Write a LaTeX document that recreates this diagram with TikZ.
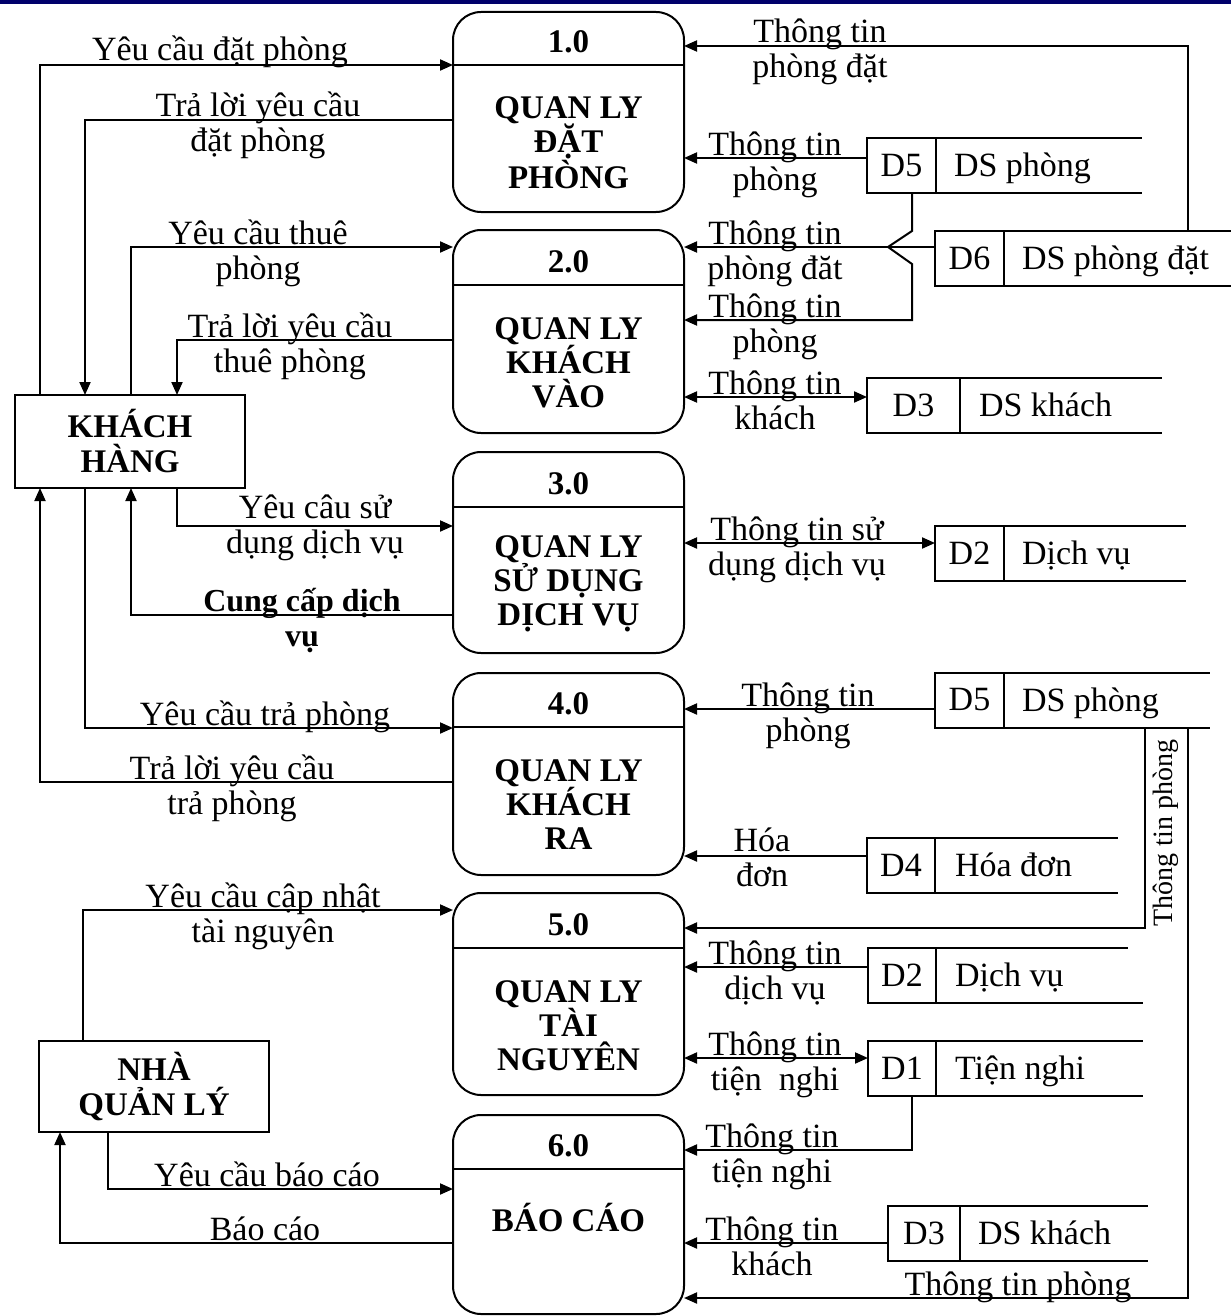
\documentclass[tikz,border=0pt]{standalone}
\usepackage{fontspec}
\setmainfont{Liberation Serif}
\usetikzlibrary{arrows.meta}
\begin{document}
\begin{tikzpicture}[x=1pt,y=-1pt,
  every node/.style={font=\fontsize{34}{35}\selectfont, inner sep=0pt, outer sep=0pt},
  ln/.style={line width=2pt},
  tip/.tip={Triangle[length=13pt,width=11pt]},
  flow/.style={ln, -tip},
  dflow/.style={ln, tip-tip},
  proc/.style={draw, ln, rounded corners=28pt, minimum width=231pt},
  ent/.style={draw, ln, minimum width=230pt, font=\bfseries\fontsize{33}{35}\selectfont, align=center},
  dsid/.style={draw, ln, minimum height=55pt},
  dsname/.style={anchor=base west},
  lbl/.style={align=center, anchor=base},
  blbl/.style={align=center, anchor=base, font=\bfseries\fontsize{32}{35}\selectfont},
  ttl/.style={font=\bfseries\fontsize{33}{34}\selectfont, align=center},
]
\useasboundingbox (0,0) rectangle (1231,1316);
\fill[white] (0,0) rectangle (1231,1316);
\fill[black!30!blue!60!black] (0,0) rectangle (1231,4);

% ---------- processes ----------
\node[proc, minimum height=200pt] (p1) at (568.5,112) {};
\draw[ln] (p1.west |- 0,65) -- (p1.east |- 0,65);
\node[ttl] (p1n) at (568.5,42) {1.0};
\node[ttl] (p1t) at (568.5,143) {QUAN LY\\ĐẶT\\PHÒNG};

\node[proc, minimum height=203pt] (p2) at (568.5,331.5) {};
\draw[ln] (p2.west |- 0,285) -- (p2.east |- 0,285);
\node[ttl] (p2n) at (568.5,262) {2.0};
\node[ttl] (p2t) at (568.5,363) {QUAN LY\\KHÁCH\\VÀO};

\node[proc, minimum height=201pt] (p3) at (568.5,552.5) {};
\draw[ln] (p3.west |- 0,507) -- (p3.east |- 0,507);
\node[ttl] (p3n) at (568.5,484) {3.0};
\node[ttl] (p3t) at (568.5,584) {QUAN LY\\SỬ DỤNG\\DỊCH VỤ};

\node[proc, minimum height=202pt] (p4) at (568.5,774) {};
\draw[ln] (p4.west |- 0,727) -- (p4.east |- 0,727);
\node[ttl] (p4n) at (568.5,704) {4.0};
\node[ttl] (p4t) at (568.5,805) {QUAN LY\\KHÁCH\\RA};

\node[proc, minimum height=202pt] (p5) at (568.5,994) {};
\draw[ln] (p5.west |- 0,948) -- (p5.east |- 0,948);
\node[ttl] (p5n) at (568.5,925) {5.0};
\node[ttl] (p5t) at (568.5,1026) {QUAN LY\\TÀI\\NGUYÊN};

\node[proc, minimum height=199pt] (p6) at (568.5,1214.5) {};
\draw[ln] (p6.west |- 0,1169) -- (p6.east |- 0,1169);
\node[ttl] (p6n) at (568.5,1146) {6.0};
\node[ttl] (p6t) at (568.5,1217) {BÁO CÁO};

% ---------- external entities ----------
\node[ent, minimum height=93pt] (kh) at (130,441.5) {KHÁCH\\HÀNG};
\node[ent, minimum height=91pt] (nql) at (154,1086.5) {NHÀ\\QUẢN LÝ};

% ---------- data stores ----------
\node[dsid, minimum width=69pt] (s1) at (901.5,165.5) {D5};
\node[dsname] (s1n) at (954,176.5) {DS phòng};
\draw[ln] (s1.north east) -- (s1.north east -| 1142,0) (s1.south east) -- (s1.south east -| 1142,0);

\node[dsid, minimum width=69pt] (s2) at (969.5,258) {D6};
\node[dsname] (s2n) at (1022,269) {DS phòng đặt};
\draw[ln] (s2.north east) -- (s2.north east -| 1231,0) (s2.south east) -- (s2.south east -| 1231,0);

\node[dsid, minimum width=93pt] (s3) at (913.5,405.5) {D3};
\node[dsname] (s3n) at (979,416.5) {DS khách};
\draw[ln] (s3.north east) -- (s3.north east -| 1162,0) (s3.south east) -- (s3.south east -| 1162,0);

\node[dsid, minimum width=69pt] (s4) at (969.5,553) {D2};
\node[dsname] (s4n) at (1022,564) {Dịch vụ};
\draw[ln] (s4.north east) -- (s4.north east -| 1186,0) (s4.south east) -- (s4.south east -| 1186,0);

\node[dsid, minimum width=69pt] (s5) at (969.5,700) {D5};
\node[dsname] (s5n) at (1022,711) {DS phòng};
\draw[ln] (s5.north east) -- (s5.north east -| 1210,0) (s5.south east) -- (s5.south east -| 1210,0);

\node[dsid, minimum width=68pt] (s6) at (901,865) {D4};
\node[dsname] (s6n) at (955,876) {Hóa đơn};
\draw[ln] (s6.north east) -- (s6.north east -| 1118,0) (s6.south east) -- (s6.south east -| 1118,0);

\node[dsid, minimum width=68pt] (s7) at (902,975.5) {D2};
\node[dsname] (s7n) at (955,986.5) {Dịch vụ};
\draw[ln] (s7.north east) -- (s7.north east -| 1128,0) (s7.south east) -- (s7.south east -| 1143,0);

\node[dsid, minimum width=68pt] (s8) at (902,1068.5) {D1};
\node[dsname] (s8n) at (955,1079.5) {Tiện nghi};
\draw[ln] (s8.north east) -- (s8.north east -| 1143,0) (s8.south east) -- (s8.south east -| 1143,0);

\node[dsid, minimum width=72pt] (s9) at (924,1233.5) {D3};
\node[dsname] (s9n) at (978,1244.5) {DS khách};
\draw[ln] (s9.north east) -- (s9.north east -| 1148,0) (s9.south east) -- (s9.south east -| 1148,0);

% ---------- left flows ----------
\draw[flow] (kh.north -| 40,0) |- (p1.west |- 0,65);
\node[lbl] (l1) at (220,61) {Yêu cầu đặt phòng};
\draw[flow] (p1.west |- 0,120) -| (kh.north -| 85,0);
\node[lbl] (l2) at (258,152) {Trả lời yêu cầu\\đặt phòng};
\draw[flow] (kh.north -| 131,0) |- (p2.west |- 0,247);
\node[lbl] (l3) at (258,279) {Yêu cầu thuê\\phòng};
\draw[flow] (p2.west |- 0,340) -| (kh.north -| 177,0);
\node[lbl] (l4) at (290,372) {Trả lời yêu cầu\\thuê phòng};
\draw[flow] (kh.south -| 177,0) |- (p3.west |- 0,526);
\node[lbl] (l5) at (315,553) {Yêu câu sử\\dụng dịch vụ};
\draw[flow] (p3.west |- 0,615) -| (kh.south -| 131,0);
\node[blbl] (l6) at (302,646) {Cung cấp dịch\\vụ};
\draw[flow] (kh.south -| 85,0) |- (p4.west |- 0,728);
\node[lbl] (l7) at (265,725) {Yêu cầu trả phòng};
\draw[flow] (p4.west |- 0,782) -| (kh.south -| 40,0);
\node[lbl] (l8) at (232,814) {Trả lời yêu cầu\\trả phòng};
\draw[flow] (nql.north -| 83,0) |- (p5.west |- 0,910);
\node[lbl] (l9) at (263,942) {Yêu cầu cập nhật\\tài nguyên};
\draw[flow] (nql.south -| 108,0) |- (p6.west |- 0,1189);
\node[lbl] (l10) at (267,1186) {Yêu cầu báo cáo};
\draw[flow] (p6.west |- 0,1243) -| (nql.south -| 60,0);
\node[lbl] (l11) at (265,1240) {Báo cáo};

% ---------- right flows ----------
\draw[flow] (s2.north -| 1188,0) |- (p1.east |- 0,46);
\node[lbl] (r1) at (820,78) {Thông tin\\phòng đặt};
\draw[flow] (s1.west |- 0,158) -- (p1.east |- 0,158);
\node[lbl] (r2) at (775,190) {Thông tin\\phòng};
\draw[flow] (s2.west |- 0,247) -- (p2.east |- 0,247);
\node[lbl] (r3) at (775,279) {Thông tin\\phòng đăt};
\draw[flow] (s1.south -| 912,0) -- (912,231) -- (888,247) -- (912,264) |- (p2.east |- 0,320);
\node[lbl] (r4) at (775,352) {Thông tin\\phòng};
\draw[dflow] (p2.east |- 0,397) -- (s3.west |- 0,397);
\node[lbl] (r5) at (775,429) {Thông tin\\khách};
\draw[dflow] (p3.east |- 0,543) -- (s4.west |- 0,543);
\node[lbl] (r6) at (797,575) {Thông tin sử\\dụng dịch vụ};
\draw[flow] (s5.west |- 0,709) -- (p4.east |- 0,709);
\node[lbl] (r7) at (808,741) {Thông tin\\phòng};
\draw[flow] (s6.west |- 0,856) -- (p4.east |- 0,856);
\node[lbl] (r8) at (762,886) {Hóa\\đơn};
\draw[flow] (s5.south -| 1145,0) |- (p5.east |- 0,928);
\node[anchor=center, rotate=90, font=\fontsize{28}{30}\selectfont] (r9) at (1166,833) {Thông tin phòng};
\draw[flow] (s7.west |- 0,967) -- (p5.east |- 0,967);
\node[lbl] (r10) at (775,999) {Thông tin\\dịch vụ};
\draw[dflow] (p5.east |- 0,1058) -- (s8.west |- 0,1058);
\node[lbl] (r11) at (775,1090) {Thông tin\\tiện\ \ nghi};
\draw[flow] (s8.south -| 912,0) |- (p6.east |- 0,1150);
\node[lbl] (r12) at (772,1182) {Thông tin\\tiện nghi};
\draw[flow] (s9.west |- 0,1243) -- (p6.east |- 0,1243);
\node[lbl] (r13) at (772,1275) {Thông tin\\khách};
\draw[flow] (s5.south -| 1188,0) |- (p6.east |- 0,1298);
\node[lbl] (r14) at (1018,1295) {Thông tin phòng};
\end{tikzpicture}
\end{document}
